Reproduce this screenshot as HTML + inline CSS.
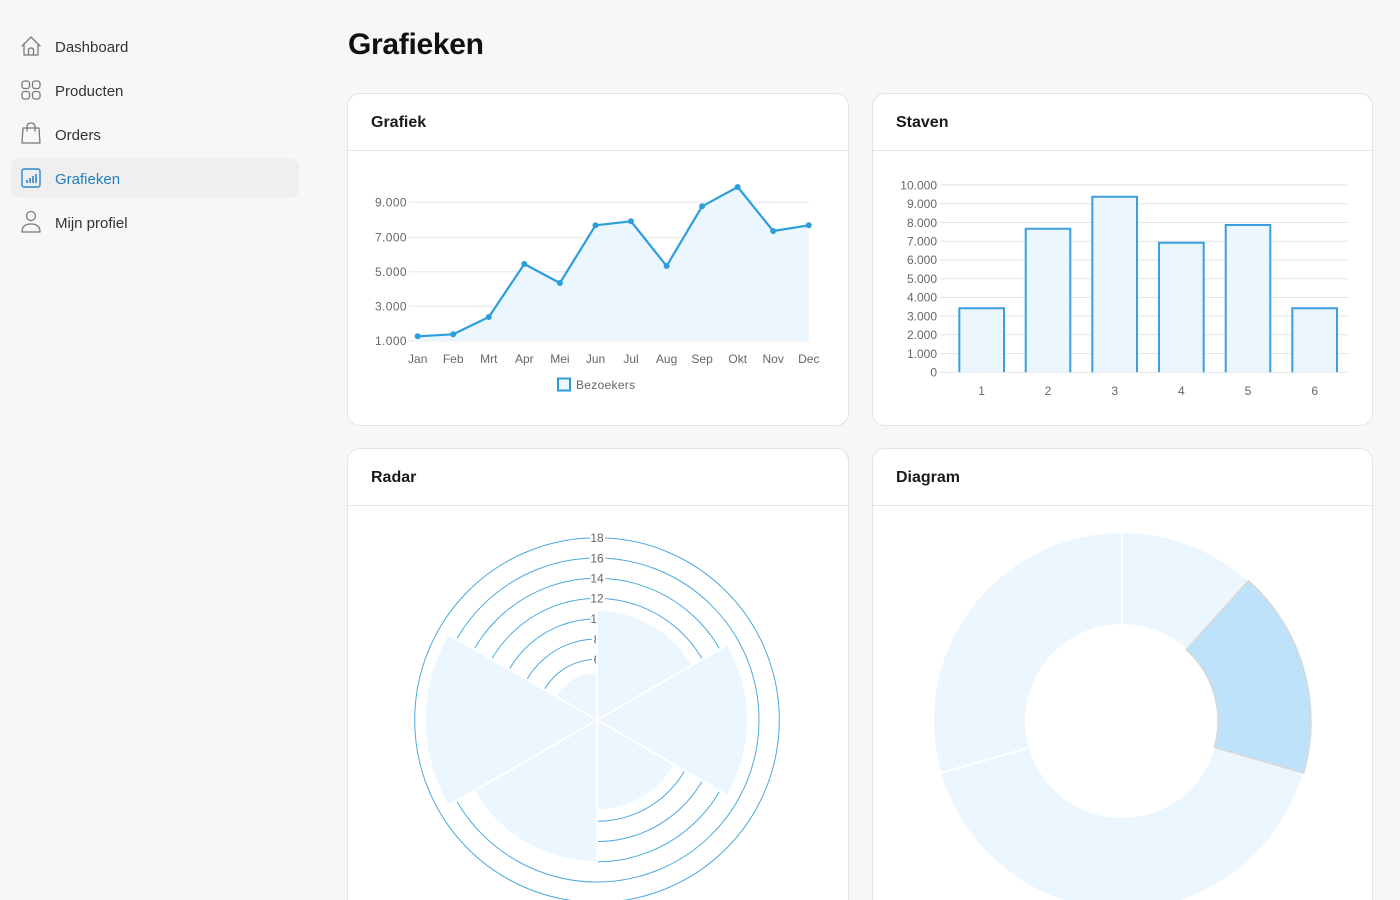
<!DOCTYPE html>
<html><head><meta charset="utf-8">
<style>
*{margin:0;padding:0;box-sizing:border-box}
html,body{width:1400px;height:900px;overflow:hidden;background:#f7f7f7;font-family:"Liberation Sans",sans-serif;color:#222}
#wrap{position:absolute;left:0;top:0;width:1400px;height:900px;overflow:hidden;background:#f7f7f7}
.nav{position:absolute;left:55px;font-size:15px;color:#333;line-height:20px}
.active-bg{position:absolute;left:11px;top:158px;width:288px;height:40px;border-radius:9px;background:#efefef}
h1{position:absolute;left:348px;top:25px;font-size:30px;font-weight:bold;color:#111;letter-spacing:-0.3px;line-height:40px}
.card{position:absolute;background:#fff;border:1px solid #e4e4e4;border-radius:13px}
.card.cut{border-bottom:none;border-radius:13px 13px 0 0}
.card .hd{height:57px;border-bottom:1px solid #e4e4e4;padding-left:23px;padding-top:2px;font-size:16px;font-weight:bold;line-height:54px;color:#1a1a1a}
svg.ov{position:absolute;left:0;top:0}
</style></head><body>
<div id="wrap">
<div class="active-bg"></div>
<div class="nav" style="top:38px">Dashboard</div>
<div class="nav" style="top:82px">Producten</div>
<div class="nav" style="top:126px">Orders</div>
<div class="nav" style="top:170px;color:#1f7fc2">Grafieken</div>
<div class="nav" style="top:214px">Mijn profiel</div>

<h1>Grafieken</h1>

<div class="card" style="left:347px;top:93px;width:502px;height:333px"><div class="hd">Grafiek</div></div>
<div class="card" style="left:872px;top:93px;width:501px;height:333px"><div class="hd">Staven</div></div>
<div class="card cut" style="left:347px;top:448px;width:502px;height:452px"><div class="hd">Radar</div></div>
<div class="card cut" style="left:872px;top:448px;width:501px;height:452px"><div class="hd">Diagram</div></div>

<svg class="ov" width="1400" height="900" viewBox="0 0 1400 900" xmlns="http://www.w3.org/2000/svg" font-family="Liberation Sans, sans-serif">
<!-- sidebar icons -->
<g fill="none" stroke="#7a7a7a" stroke-width="1.3" stroke-linejoin="round" stroke-linecap="round">
 <path d="M22,46 L31,37 L40,46 M24,44 V55 H38 V44 M28.5,55 V50 Q28.5,48 31,48 Q33.5,48 33.5,50 V55"/>
 <rect x="22" y="81" width="7.5" height="7.5" rx="2.5"/><rect x="32.5" y="81" width="7.5" height="7.5" rx="2.5"/>
 <rect x="22" y="91.5" width="7.5" height="7.5" rx="2.5"/><rect x="32.5" y="91.5" width="7.5" height="7.5" rx="2.5"/>
 <path d="M23,128 H39 L40,143 H22 Z M27,131 V127 Q27,123 31,123 Q35,123 35,127 V131"/>
 <circle cx="31" cy="216" r="4.5"/>
 <path d="M22,232 Q22,224 31,224 Q40,224 40,232 Z"/>
</g>
<g fill="none" stroke="#2a86c8" stroke-width="1.4">
 <rect x="22" y="169" width="18" height="18" rx="2"/>
 <path d="M27,183 V180 M30,183 V178 M33,183 V176 M36,183 V174" stroke-width="1.6"/>
</g>

<!-- line chart -->
<g stroke="#e5e5e5" stroke-width="1">
 <line x1="409" y1="202.3" x2="809" y2="202.3"/>
 <line x1="409" y1="237.3" x2="809" y2="237.3"/>
 <line x1="409" y1="271.7" x2="809" y2="271.7"/>
 <line x1="409" y1="306.3" x2="809" y2="306.3"/>
 <line x1="409" y1="340.7" x2="809" y2="340.7"/>
</g>
<g font-size="12" fill="#666" text-anchor="end" letter-spacing="0.4">
 <text x="407" y="206.5">9.000</text>
 <text x="407" y="241.5">7.000</text>
 <text x="407" y="276">5.000</text>
 <text x="407" y="310.5">3.000</text>
 <text x="407" y="345">1.000</text>
</g>
<polygon fill="#ebf6fe" points="417.7,336.3 453.2,334.3 488.8,317 524.3,264 559.9,283 595.5,225.3 631,221.3 666.6,266 702.1,206.3 737.7,187 773.2,231 808.8,225.3 808.8,340.7 417.7,340.7"/>
<polyline fill="none" stroke="#2d9edc" stroke-width="2.2" stroke-linejoin="round" points="417.7,336.3 453.2,334.3 488.8,317 524.3,264 559.9,283 595.5,225.3 631,221.3 666.6,266 702.1,206.3 737.7,187 773.2,231 808.8,225.3"/>
<g fill="#2d9edc">
 <circle cx="417.7" cy="336.3" r="3"/><circle cx="453.2" cy="334.3" r="3"/><circle cx="488.8" cy="317" r="3"/>
 <circle cx="524.3" cy="264" r="3"/><circle cx="559.9" cy="283" r="3"/><circle cx="595.5" cy="225.3" r="3"/>
 <circle cx="631" cy="221.3" r="3"/><circle cx="666.6" cy="266" r="3"/><circle cx="702.1" cy="206.3" r="3"/>
 <circle cx="737.7" cy="187" r="3"/><circle cx="773.2" cy="231" r="3"/><circle cx="808.8" cy="225.3" r="3"/>
</g>
<g font-size="12" fill="#666" text-anchor="middle">
 <text x="417.7" y="363">Jan</text><text x="453.2" y="363">Feb</text><text x="488.8" y="363">Mrt</text>
 <text x="524.3" y="363">Apr</text><text x="559.9" y="363">Mei</text><text x="595.5" y="363">Jun</text>
 <text x="631" y="363">Jul</text><text x="666.6" y="363">Aug</text><text x="702.1" y="363">Sep</text>
 <text x="737.7" y="363">Okt</text><text x="773.2" y="363">Nov</text><text x="808.8" y="363">Dec</text>
</g>
<rect x="558" y="378.5" width="12" height="12" fill="#ebf6fe" stroke="#2d9edc" stroke-width="2"/>
<text x="576" y="389" font-size="12" fill="#666" letter-spacing="0.3">Bezoekers</text>

<!-- bar chart -->
<g stroke="#e3e3e3" stroke-width="1">
 <line x1="940" y1="185" x2="1348" y2="185"/><line x1="940" y1="203.7" x2="1348" y2="203.7"/>
 <line x1="940" y1="222.5" x2="1348" y2="222.5"/><line x1="940" y1="241.2" x2="1348" y2="241.2"/>
 <line x1="940" y1="259.9" x2="1348" y2="259.9"/><line x1="940" y1="278.7" x2="1348" y2="278.7"/>
 <line x1="940" y1="297.4" x2="1348" y2="297.4"/><line x1="940" y1="316.1" x2="1348" y2="316.1"/>
 <line x1="940" y1="334.8" x2="1348" y2="334.8"/><line x1="940" y1="353.6" x2="1348" y2="353.6"/>
 <line x1="940" y1="372.3" x2="1348" y2="372.3"/>
</g>
<g font-size="12" fill="#666" text-anchor="end">
 <text x="937" y="189.3">10.000</text><text x="937" y="208">9.000</text><text x="937" y="226.8">8.000</text>
 <text x="937" y="245.5">7.000</text><text x="937" y="264.2">6.000</text><text x="937" y="283">5.000</text>
 <text x="937" y="301.7">4.000</text><text x="937" y="320.4">3.000</text><text x="937" y="339.1">2.000</text>
 <text x="937" y="357.9">1.000</text><text x="937" y="376.6">0</text>
</g>
<g fill="#ebf6fe" stroke="#3a9fdb" stroke-width="2">
 <path d="M959.3,372.3 V308.3 H1004 V372.3"/>
 <path d="M1025.7,372.3 V228.7 H1070.3 V372.3"/>
 <path d="M1092.3,372.3 V196.7 H1137 V372.3"/>
 <path d="M1159,372.3 V242.7 H1203.7 V372.3"/>
 <path d="M1225.7,372.3 V225 H1270.3 V372.3"/>
 <path d="M1292.3,372.3 V308.3 H1337 V372.3"/>
</g>
<g font-size="12" fill="#666" text-anchor="middle">
 <text x="981.6" y="395">1</text><text x="1048" y="395">2</text><text x="1114.7" y="395">3</text>
 <text x="1181.3" y="395">4</text><text x="1248" y="395">5</text><text x="1314.7" y="395">6</text>
</g>

<!-- polar area -->
<g fill="none" stroke="#4ea9de" stroke-width="1">
 <circle cx="597" cy="720" r="20.3"/><circle cx="597" cy="720" r="40.5"/>
 <circle cx="597" cy="720" r="60.8"/><circle cx="597" cy="720" r="81"/>
 <circle cx="597" cy="720" r="101.3"/><circle cx="597" cy="720" r="121.6"/>
 <circle cx="597" cy="720" r="141.8"/><circle cx="597" cy="720" r="162"/>
 <circle cx="597" cy="720" r="182.3"/>
</g>
<g font-size="12" fill="#666" text-anchor="middle" stroke="#fff" stroke-width="5" paint-order="stroke" stroke-linejoin="round">
 <text x="597" y="542">18</text><text x="597" y="562.3">16</text><text x="597" y="582.5">14</text>
 <text x="597" y="602.7">12</text><text x="597" y="623">10</text><text x="597" y="643.3">8</text>
 <text x="597" y="663.5">6</text>
</g>
<g fill="#ecf6fe" stroke="#fff" stroke-width="2" stroke-linejoin="round">
 <path d="M597,720 L597,610 A110,110 0 0 1 692.26,665 Z"/>
 <path d="M597,720 L727.77,644.5 A151,151 0 0 1 727.77,795.5 Z"/>
 <path d="M597,720 L674.94,765 A90,90 0 0 1 597,810 Z"/>
 <path d="M597,720 L597,862 A142,142 0 0 1 474.02,791 Z"/>
 <path d="M597,720 L448.04,806 A172,172 0 0 1 448.04,634 Z"/>
 <path d="M597,720 L555.43,696 A48,48 0 0 1 597,672 Z"/>
</g>

<!-- doughnut -->
<g fill="#ecf6fe" stroke="#fff" stroke-width="2" stroke-linejoin="round">
 <path d="M1122,532 A189,189 0 0 1 1248.46,580.55 L1186.23,649.66 A96,96 0 0 0 1122,625 Z"/>
 <path d="M1303.68,773.09 A189,189 0 0 1 940.32,773.09 L1029.72,747.46 A96,96 0 0 0 1214.28,747.46 Z"/>
 <path d="M940.32,773.09 A189,189 0 0 1 1122,532 L1122,625 A96,96 0 0 0 1029.72,747.46 Z"/>
</g>
<path fill="#bde2f9" stroke="#d8d8d8" stroke-width="1.5" stroke-linejoin="round" d="M1248.46,580.55 A189,189 0 0 1 1303.68,773.09 L1214.28,747.46 A96,96 0 0 0 1186.23,649.66 Z"/>
</svg>
</div>
</body></html>
